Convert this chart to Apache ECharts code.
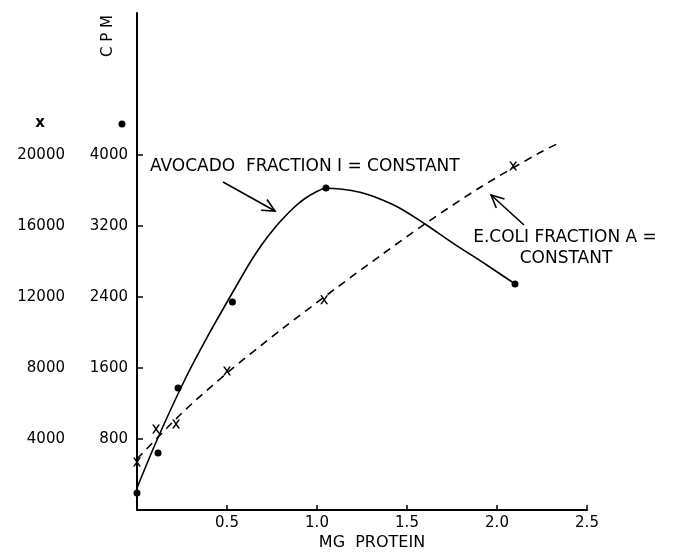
<!DOCTYPE html>
<html><head><meta charset="utf-8">
<script src="https://cdn.jsdelivr.net/npm/echarts@6/dist/echarts.min.js"></script>
<style>html,body{margin:0;padding:0;background:#fff}#c{width:673px;height:552px}</style>
</head><body><div id="c"></div>
<script>
// ---- data ----
const xTicks = [0.5, 1.0, 1.5, 2.0, 2.5];
const cpmDotTicks = [800, 1600, 2400, 3200, 4000];      // scale for "•" (Avocado)
const cpmCrossTicks = [4000, 8000, 12000, 16000, 20000]; // scale for "x" (E.coli)

// Avocado fraction I (dots, right label column)
const avocadoPtX = [0, 0.117, 0.228, 0.53, 1.05, 2.1];
const avocadoPtY = [192, 642, 1375, 2344, 3628, 2546];
// Avocado drawn curve (solid)
const avocadoCurveX = [0, 0.111, 0.265, 0.406, 0.539, 0.628, 0.694, 0.767, 0.822, 0.878, 0.933, 0.989, 1.05, 1.128, 1.239, 1.35, 1.461, 1.6, 1.757, 1.943, 2.1];
const avocadoCurveY = [248, 789, 1465, 2006, 2479, 2789, 2992, 3183, 3307, 3420, 3510, 3578, 3625, 3617, 3580, 3504, 3400, 3223, 3005, 2761, 2547];

// E.coli fraction A (crosses, left label column)
const ecoliPtX = [0, 0.106, 0.217, 0.5, 1.04, 2.09];
const ecoliPtY = [2704, 4563, 4845, 7831, 11850, 19380];
// E.coli drawn curve (dashed)
const ecoliCurveX = [0, 0.25, 0.5, 0.806, 1.111, 1.361, 1.611, 1.906, 2.239, 2.339];
const ecoliCurveY = [2873, 5465, 7718, 10197, 12535, 14394, 16197, 18169, 20141, 20648];

// annotation arrows [start, tip] in data coords (x, dot-scale CPM)
const avocadoArrow = [[0.478, 3695], [0.767, 3369]];
const ecoliArrow = [[2.15, 3211], [1.967, 3549]];

const FONT = 'DejaVu Sans';
const zip = (a, b) => a.map((v, i) => [v, b[i]]);
const CROSS = 'path://M0,0L2.2,0L10,10L7.8,10Z M7.8,0L10,0L2.2,10L0,10Z';

const chart = echarts.init(document.getElementById('c'), null, {renderer: 'canvas'});
chart.setOption({
  animation: false,
  backgroundColor: '#fff',
  grid: {left: 137, right: 86, top: 13, bottom: 42},
  xAxis: {
    type: 'value', min: 0, max: 2.5,
    axisLine: {lineStyle: {color: '#000', width: 2}},
    axisTick: {show: true, inside: true, length: 5, customValues: xTicks, lineStyle: {color: '#000', width: 1.5}},
    axisLabel: {customValues: xTicks, formatter: v => v.toFixed(1), color: '#000', fontSize: 15, fontFamily: FONT, margin: 6},
    splitLine: {show: false}
  },
  yAxis: [
    {
      type: 'value', min: 0, max: 5600, position: 'left',
      axisLine: {show: true, lineStyle: {color: '#000', width: 2}},
      axisTick: {show: true, inside: true, length: 6, customValues: cpmDotTicks, lineStyle: {color: '#000', width: 1.5}},
      axisLabel: {customValues: cpmDotTicks, formatter: v => String(v), color: '#000', fontSize: 15, fontFamily: FONT, margin: 9},
      splitLine: {show: false}
    },
    {
      type: 'value', min: 0, max: 28000, position: 'left', offset: 63,
      axisLine: {show: false}, axisTick: {show: false},
      axisLabel: {customValues: cpmCrossTicks, formatter: v => String(v), color: '#000', fontSize: 15, fontFamily: FONT, margin: 9},
      splitLine: {show: false}
    }
  ],
  series: [
    {
      name: 'Avocado curve', type: 'line', yAxisIndex: 0, smooth: 0.3, symbol: 'none',
      data: zip(avocadoCurveX, avocadoCurveY),
      lineStyle: {color: '#000', width: 1.6}
    },
    {
      name: 'E.coli curve', type: 'line', yAxisIndex: 1, smooth: 0.3, symbol: 'none',
      data: zip(ecoliCurveX, ecoliCurveY),
      lineStyle: {color: '#000', width: 1.6, type: [8, 6]}
    },
    {
      name: 'Avocado', type: 'scatter', yAxisIndex: 0, symbol: 'circle', symbolSize: 7,
      data: zip(avocadoPtX, avocadoPtY), itemStyle: {color: '#000', opacity: 1}, z: 5
    },
    {
      name: 'E.coli', type: 'scatter', yAxisIndex: 1, symbol: CROSS, symbolSize: [8, 9],
      data: zip(ecoliPtX, ecoliPtY), itemStyle: {color: '#000', opacity: 1}, z: 5
    }
  ]
});

function arrow(pts) {
  const a = chart.convertToPixel({xAxisIndex: 0, yAxisIndex: 0}, pts[0]);
  const b = chart.convertToPixel({xAxisIndex: 0, yAxisIndex: 0}, pts[1]);
  const ang = Math.atan2(a[1] - b[1], a[0] - b[0]);
  const L = 14, d = 0.45;
  const p1 = [b[0] + L * Math.cos(ang + d), b[1] + L * Math.sin(ang + d)];
  const p2 = [b[0] + L * Math.cos(ang - d), b[1] + L * Math.sin(ang - d)];
  return [
    {type: 'line', shape: {x1: a[0], y1: a[1], x2: b[0], y2: b[1]}, style: {stroke: '#000', lineWidth: 1.6}},
    {type: 'polyline', shape: {points: [p1, b, p2]}, style: {stroke: '#000', lineWidth: 1.6, fill: null}}
  ];
}
function txt(text, x, y, size, align, rot, weight) {
  return {type: 'text', x: x, y: y, rotation: rot || 0,
    style: {text: text, fill: '#000', fontSize: size, fontFamily: FONT, fontWeight: weight || 'normal',
      align: align || 'center', verticalAlign: 'middle', textAlign: align || 'center', textVerticalAlign: 'middle'}};
}
chart.setOption({
  graphic: [
    ...arrow(avocadoArrow),
    ...arrow(ecoliArrow),
    txt('AVOCADO  FRACTION I = CONSTANT', 150, 167, 17, 'left'),
    txt('E.COLI FRACTION A =', 565, 238, 17),
    txt('CONSTANT', 566, 259, 17),
    txt('MG  PROTEIN', 372, 543, 16),
    txt('C P M', 108, 36, 15, 'center', Math.PI / 2),
    txt('x', 40, 123, 15, 'center', 0, 'bold'),
    {type: 'circle', shape: {cx: 122, cy: 124, r: 3.5}, style: {fill: '#000'}}
  ]
});
</script></body></html>
